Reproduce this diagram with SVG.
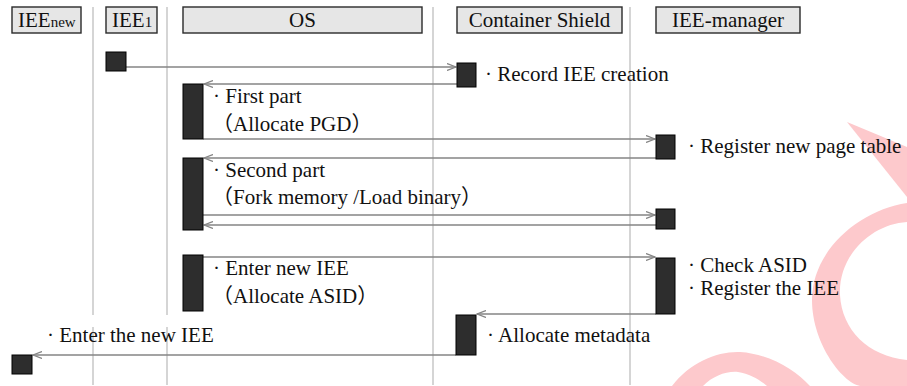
<svg xmlns="http://www.w3.org/2000/svg" width="907" height="386" viewBox="0 0 907 386">
<defs>
<style>
.hdr{fill:#e6e6e6;stroke:#2a2a2a;stroke-width:1.4}
.life{stroke:#c8c8c8;stroke-width:1.5;fill:none}
.act{fill:#2d2d2d;stroke:#000;stroke-width:1}
.msg{stroke:#858585;stroke-width:1.4;fill:none;marker-end:url(#ah)}
.h{font-size:21px;fill:#111}
.l{font-size:21px;fill:#111}
.cjk{font-family:"Noto Sans CJK SC",sans-serif}
.wm{fill:#fdc9cc;stroke:none}
</style>
<marker id="ah" viewBox="0 0 10 8" refX="9" refY="4" markerWidth="10" markerHeight="8" markerUnits="userSpaceOnUse" orient="auto">
<path d="M0,0.5 L9,4 L0,7.5" fill="none" stroke="#858585" stroke-width="1.3"/>
</marker>
</defs>
<rect width="907" height="386" fill="#fff"/>
<g id="watermark">
<path class="wm" d="M847,122 L907,147 L907,197 Z"/>
<path class="wm" fill-rule="evenodd" d="M907,203 C860,210 812,250 812,300 C812,345 845,386 862,386 L907,386 Z M907,222 C872,224 838,255 840,295 C842,330 868,356 907,360 Z"/>
<path class="wm" fill-rule="evenodd" d="M672,386 C690,362 718,351 740,352 C770,354 795,370 810,386 Z M703,386 C713,376 726,371 738,372 C750,374 760,380 767,386 Z"/>
</g>
<g id="lifelines">
<path class="life" d="M93,7 V315 M93,327 V385 M167,7 V315 M167,327 V385 M433,7 V385 M630,7 V385"/>
</g>
<g font-family="Liberation Serif, Times New Roman, serif">
<g id="hdr-ieenew"><rect class="hdr" x="12" y="7" width="69" height="26"/><text class="h" x="18" y="27">IEE<tspan font-size="15">new</tspan></text></g>
<g id="hdr-iee1"><rect class="hdr" x="106" y="7" width="51" height="26"/><text class="h" x="112" y="27">IEE<tspan font-size="15">1</tspan></text></g>
<g id="hdr-os"><rect class="hdr" x="183" y="7" width="239" height="26"/><text class="h" x="302.5" y="27" text-anchor="middle">OS</text></g>
<g id="hdr-cs"><rect class="hdr" x="457" y="7" width="165" height="26"/><text class="h" x="539.5" y="27" text-anchor="middle">Container Shield</text></g>
<g id="hdr-im"><rect class="hdr" x="656" y="7" width="144" height="26"/><text class="h" x="728" y="27" text-anchor="middle">IEE-manager</text></g>
<g id="connectors">
<path class="msg" d="M126,67 H456"/>
<path class="msg" d="M457,84 H204"/>
<path class="msg" d="M203,139 H655"/>
<path class="msg" d="M656,158 H204"/>
<path class="msg" d="M203,215 H655"/>
<path class="msg" d="M656,225 H204"/>
<path class="msg" d="M203,257 H655"/>
<path class="msg" d="M656,314 H477"/>
<path class="msg" d="M456,355 H33"/>
</g>
<g id="iee1-act"><rect class="act" x="106" y="52" width="20" height="19"/></g>
<g id="cs-record"><rect class="act" x="457" y="63" width="19" height="24"/><text class="l" x="485" y="81">· Record IEE creation</text></g>
<g id="os-first"><rect class="act" x="183" y="84" width="20" height="55"/><text class="l" x="213" y="103">· First part</text><text class="l" x="212" y="131"><tspan class="cjk">（</tspan>Allocate PGD<tspan class="cjk">）</tspan></text></g>
<g id="im-register"><rect class="act" x="656" y="135" width="19" height="24"/><text class="l" x="688" y="153">· Register new page table</text></g>
<g id="os-second"><rect class="act" x="183" y="158" width="20" height="72"/><text class="l" x="213" y="177">· Second part</text><text class="l" x="212" y="204"><tspan class="cjk">（</tspan>Fork memory /Load binary<tspan class="cjk">）</tspan></text></g>
<g id="im-second"><rect class="act" x="656" y="209" width="19" height="20"/></g>
<g id="os-enter"><rect class="act" x="183" y="255" width="20" height="56"/><text class="l" x="213" y="275">· Enter new IEE</text><text class="l" x="212" y="303"><tspan class="cjk">（</tspan>Allocate ASID<tspan class="cjk">）</tspan></text></g>
<g id="im-check"><rect class="act" x="656" y="258" width="19" height="56"/><text class="l" x="688" y="272">· Check ASID</text><text class="l" x="688" y="295">· Register the IEE</text></g>
<g id="cs-meta"><rect class="act" x="456" y="315" width="20" height="40"/><text class="l" x="487" y="342">· Allocate metadata</text></g>
<g id="ieenew-act"><rect class="act" x="12" y="355" width="20" height="19"/><text class="l" x="47" y="342">· Enter the new IEE</text></g>
</g>
</svg>
